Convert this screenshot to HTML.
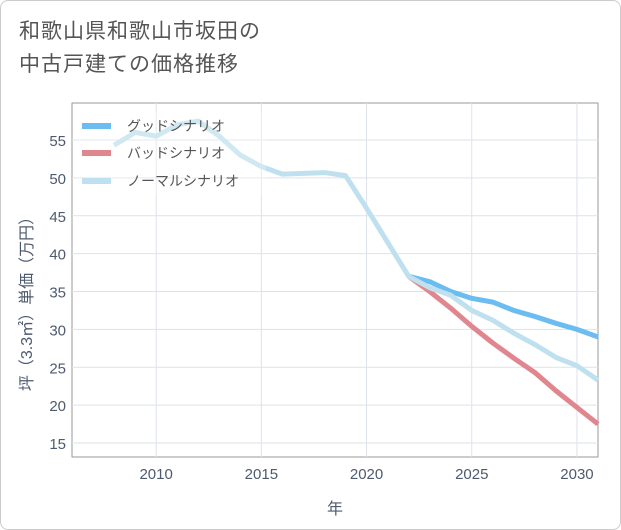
<!DOCTYPE html>
<html><head><meta charset="utf-8"><style>
body{margin:0;background:#fff;font-family:"Liberation Sans","Noto Sans CJK JP",sans-serif}
#wrap{position:relative;width:619px;height:528px;border:1px solid #ccc;border-radius:8px;background:#fff;overflow:hidden}
#title{position:absolute;left:18px;top:14px;font-size:21px;line-height:33px;color:#555;letter-spacing:1px}
</style></head><body>
<div id="wrap">
<div id="title">和歌山県和歌山市坂田の<br>中古戸建ての価格推移</div>
<svg id="c" width="621" height="530" style="position:absolute;left:-1px;top:-1px"></svg>
</div>
<script>
const years=[2008,2009,2010,2011,2012,2013,2014,2015,2016,2017,2018,2019,2020,2021,2022,2023,2024,2025,2026,2027,2028,2029,2030,2031];
const normal=[54.3,56,55.5,57,57.5,55.5,53,51.5,50.5,50.6,50.7,50.3,46,41.5,37,35.5,34.5,32.5,31.2,29.5,28,26.3,25.2,23.3];
const goodYears=[2022,2023,2024,2025,2026,2027,2028,2029,2030,2031];
const good=[37,36.3,35,34.1,33.6,32.5,31.7,30.8,30,29];
const bad=[37,35,32.8,30.4,28.2,26.2,24.3,21.9,19.7,17.5];
const xTicks=[2010,2015,2020,2025,2030];
const yTicks=[15,20,25,30,35,40,45,50,55];
const L=72,R=598,T=103,B=457;
const X=y=>L+(y-2006)*(R-L)/25;
const Y=v=>140+(55-v)*303/40;
const NS="http://www.w3.org/2000/svg",svg=document.getElementById('c');
function mk(t,a,p){const e=document.createElementNS(NS,t);for(const k in a)e.setAttribute(k,a[k]);(p||svg).appendChild(e);return e;}
const bg=mk('rect',{x:L,y:T,width:R-L,height:B-T,fill:'#fff',stroke:'#999'});


xTicks.forEach(t=>{const g=mk('line',{x1:X(t),x2:X(t),y1:T,y2:B,stroke:'#dde3ea'});


const tx=mk('text',{x:X(t),y:B+22,'text-anchor':'middle','font-size':15,fill:'#4e5a6e'});tx.textContent=t;

});
yTicks.forEach(t=>{const g=mk('line',{x1:L,x2:R,y1:Y(t),y2:Y(t),stroke:'#dde3ea'});


const tx=mk('text',{x:L-6,y:Y(t)+6,'text-anchor':'end','font-size':15,fill:'#4e5a6e'});tx.textContent=t;

});
function line(xs,vs,col,w,name){const p=mk('polyline',{points:xs.map((y,i)=>X(y)+','+Y(vs[i])).join(' '),fill:'none',stroke:col,'stroke-width':w,'stroke-linejoin':'round'});

}
line(goodYears,bad,'#e0868f',5,'bad-scenario-line');
line(goodYears,good,'#6bbcf0',5,'good-scenario-line');
line(years,normal,'#bfe0ee',5,'normal-scenario-line');
const lg=mk('rect',{x:76,y:112,width:190,height:84,fill:'rgba(255,255,255,0.25)'});


[['グッドシナリオ','#6bbcf0',126],['バッドシナリオ','#e0868f',153],['ノーマルシナリオ','#bfe0ee',181]].forEach((d,i)=>{
const s=mk('line',{x1:82,x2:111,y1:d[2],y2:d[2],stroke:d[1],'stroke-width':6});


const t=mk('text',{x:127,y:d[2]+5,'font-size':14,fill:'#555'});t.textContent=d[0];

});
const xt=mk('text',{x:(L+R)/2,y:514,'text-anchor':'middle','font-size':16,fill:'#4e5a6e'});xt.textContent='年';


const yt=mk('text',{x:0,y:0,'text-anchor':'middle','font-size':16,fill:'#4e5a6e',transform:'translate(32,300) rotate(-90)'});yt.textContent='坪（3.3㎡）単価（万円）';


</script>
</body></html>
